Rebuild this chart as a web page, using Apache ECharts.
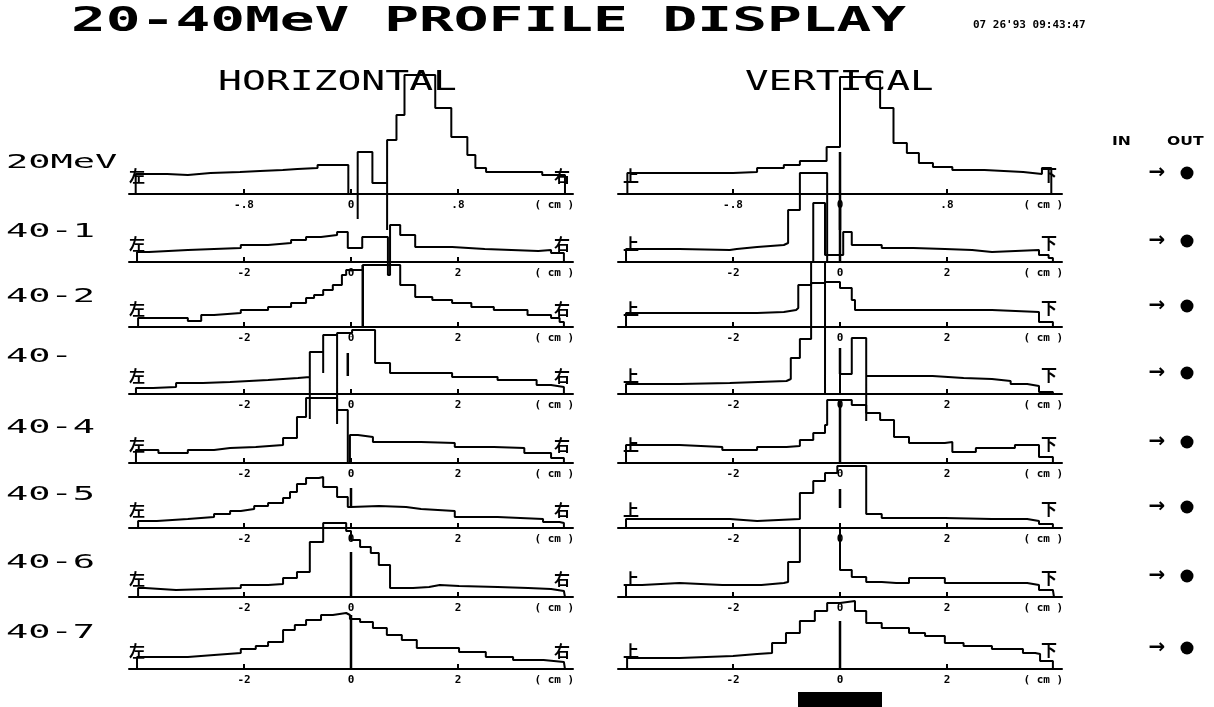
<!DOCTYPE html>
<html>
<head>
<meta charset="utf-8">
<script src="https://cdn.jsdelivr.net/npm/echarts@6/dist/echarts.min.js"></script>
<style>html,body{margin:0;padding:0;background:#fff}#c{width:1214px;height:707px}</style>
</head>
<body>
<div id="c"></div>
<script>
// ---------- data (x in cm, y = intensity in arbitrary units) ----------
const rowNames = ['20MeV', '40-1', '40-2', '40-', '40-4', '40-5', '40-6', '40-7'];
const row1TickValues = [-0.8, 0, 0.8];
const row1TickLabels = ['-.8', '0', '.8'];
const tickValues = [-2, 0, 2];
const tickLabels = ['-2', '0', '2'];
const unitLabel = '( cm )';

const horiz20MeV = [[-1.61,0],[-1.61,20],[-1.375,19],[-1.22,21],[-1.05,22],[-0.83,23],[-0.68,24],[-0.51,25],[-0.40,26],[-0.25,29],[-0.02,0],[0.05,-25],[0.05,42],[0.16,11],[0.27,-36],[0.27,54],[0.34,79],[0.40,119],[0.63,86],[0.75,57],[0.87,39],[0.93,26],[1.01,22],[1.43,19],[1.60,0]];
const horiz40_1 = [[-4.0,0],[-4.0,10],[-3.78,12],[-3.05,13],[-2.56,14],[-2.06,17],[-1.55,19],[-1.12,22],[-0.84,25],[-0.56,27],[-0.26,30],[-0.06,14],[0.21,25],[0.69,-13],[0.73,37],[0.92,27],[1.2,15],[1.89,13],[2.5,12],[3.0,11],[3.5,12],[3.74,9],[3.98,0]];
const horiz40_2 = [[-3.98,0],[-3.98,9],[-3.05,6],[-2.80,12],[-2.56,14],[-2.06,17],[-1.55,20],[-1.12,24],[-0.84,29],[-0.69,32],[-0.52,37],[-0.34,42],[-0.17,52],[-0.09,57],[0.22,62],[0.92,42],[1.2,30],[1.52,27],[1.89,24],[2.25,20],[2.67,17],[3.3,12],[3.74,9],[3.9,5],[3.98,0]];
const horiz40_3 = [[-4.02,0],[-4.02,6],[-3.70,7],[-3.27,11],[-2.77,12],[-2.26,14],[-1.55,16],[-0.99,17],[-0.77,-25],[-0.77,42],[-0.52,21],[-0.52,59],[-0.26,-30],[-0.26,61],[0.02,64],[0.45,31],[0.73,21],[1.89,17],[2.74,14],[3.47,9],[3.74,7],[3.98,0]];
const horiz40_4 = [[-4.02,0],[-4.02,13],[-3.6,10],[-3.05,13],[-2.56,15],[-2.26,16],[-1.78,18],[-1.27,25],[-1.01,46],[-0.84,65],[-0.26,53],[-0.06,0],[-0.02,28],[0.13,26],[0.41,21],[1.31,20],[1.94,16],[2.67,15],[3.24,10],[3.74,5],[3.98,0]];
const horiz40_5 = [[-3.98,0],[-3.98,7],[-3.63,9],[-3.05,11],[-2.56,14],[-2.26,17],[-2.06,19],[-1.81,22],[-1.55,25],[-1.27,30],[-1.14,36],[-1.01,44],[-0.84,50],[-0.6,51],[-0.52,41],[-0.26,31],[-0.06,21],[0.0,22],[0.52,21],[1.03,19],[1.31,17],[1.94,11],[2.74,9],[3.59,6],[3.9,5],[3.98,0]];
const horiz40_6 = [[-3.98,0],[-3.98,9],[-3.85,7],[-3.27,9],[-2.06,12],[-1.55,13],[-1.27,19],[-1.01,25],[-0.77,55],[-0.52,74],[-0.09,66],[0.0,57],[0.17,50],[0.37,44],[0.52,32],[0.73,9],[1.16,10],[1.46,12],[1.66,11],[2.02,10],[2.74,9],[3.31,8],[3.74,6],[3.98,5],[4.0,0]];
const horiz40_7 = [[-4.0,0],[-4.0,12],[-3.05,14],[-2.56,16],[-2.06,20],[-1.78,23],[-1.55,27],[-1.27,39],[-1.05,44],[-0.84,49],[-0.56,54],[-0.34,56],[-0.09,54],[-0.02,50],[0.17,47],[0.41,41],[0.67,34],[0.95,29],[1.23,21],[2.02,17],[2.52,12],[3.03,9],[3.6,7],[3.98,6],[4.0,0]];

const vert20MeV = [[-1.59,0],[-1.59,21],[-0.80,22],[-0.62,26],[-0.42,29],[-0.30,33],[-0.10,47],[0,117],[0.30,86],[0.40,51],[0.50,41],[0.59,31],[0.695,27],[0.84,24],[1.08,22],[1.37,20],[1.51,26],[1.58,0]];
const vert40_1 = [[-4.0,0],[-4.0,13],[-3.0,12],[-2.06,13],[-1.93,15],[-1.55,17],[-1.05,19],[-0.97,52],[-0.75,89],[-0.24,68],[-0.24,0],[-0.5,0],[-0.5,59],[-0.28,7],[0.06,30],[0.22,17],[0.78,14],[1.37,13],[1.96,12],[2.47,10],[2.84,12],[3.72,7],[3.9,4],[3.98,0]];
const vert40_2 = [[-4.0,0],[-4.0,14],[-1.55,15],[-1.05,17],[-0.82,19],[-0.78,42],[-0.54,65],[-0.28,45],[0.0,39],[0.22,27],[0.28,17],[1.96,17],[2.84,15],[3.72,14],[3.72,5],[3.98,0]];
const vert40_3 = [[-4.0,0],[-4.0,10],[-3.0,11],[-2.06,13],[-1.0,15],[-0.92,36],[-0.75,55],[-0.54,111],[-0.28,0],[0.0,20],[0.22,56],[0.49,-27],[0.49,18],[1.73,16],[2.31,15],[2.84,13],[3.19,10],[3.5,8],[3.72,2],[3.98,0]];
const vert40_4 = [[-4.0,0],[-4.0,18],[-3.0,16],[-2.2,13],[-1.55,16],[-1.0,17],[-0.75,23],[-0.5,30],[-0.28,38],[-0.24,63],[0.22,58],[0.49,50],[0.75,43],[1.01,26],[1.29,20],[1.96,21],[2.1,11],[2.54,15],[3.27,18],[3.72,6],[3.98,0]];
const vert40_5 = [[-4.0,0],[-4.0,9],[-2.06,7],[-1.55,9],[-0.75,35],[-0.5,47],[-0.28,55],[-0.05,62],[0.49,14],[0.78,10],[1.96,9],[2.84,9],[3.5,7],[3.72,4],[3.98,0]];
const vert40_6 = [[-4.0,0],[-4.0,12],[-3.7,14],[-3.0,12],[-2.2,12],[-1.47,14],[-1.05,15],[-0.97,35],[-0.75,69],[0.0,27],[0.22,20],[0.49,15],[0.78,14],[1.05,14],[1.29,19],[1.96,14],[2.5,14],[3.5,12],[3.72,7],[3.98,5],[4.0,0]];
const vert40_7 = [[-3.98,0],[-3.98,11],[-3.0,13],[-2.0,15],[-1.55,16],[-1.27,26],[-1.01,36],[-0.75,48],[-0.47,58],[-0.24,66],[0.0,68],[0.28,58],[0.49,46],[0.78,41],[1.29,36],[1.59,33],[1.96,26],[2.31,23],[2.84,20],[3.42,16],[3.65,15],[3.74,8],[3.98,0]];

// centre markers: [row, x(cm), from, to]
const horizMarkers = [[2,0.22,0,62],[3,-0.06,18,41],[5,0,21,40],[6,0,0,45],[7,0,0,54]];
const vertMarkers = [[0,0,-36,42],[1,0,0,62],[3,0,20,46],[4,0,0,63],[5,0,20,39],[7,0,0,48]];

const horizProfiles = [horiz20MeV, horiz40_1, horiz40_2, horiz40_3, horiz40_4, horiz40_5, horiz40_6, horiz40_7];
const vertProfiles = [vert20MeV, vert40_1, vert40_2, vert40_3, vert40_4, vert40_5, vert40_6, vert40_7];

// ---------- layout ----------
const axisY = [194, 262, 327, 394, 463, 528, 597, 669];
const panelLeft = [129, 618];
const panelWidth = 444;
const gridH = 60;
const MONO = '"DejaVu Sans Mono", "Liberation Mono", monospace';

const grid = [], xAxis = [], yAxis = [], series = [];
[horizProfiles, vertProfiles].forEach(function (profiles, p) {
  profiles.forEach(function (prof, r) {
    const idx = grid.length;
    const first = r === 0;
    const tv = first ? row1TickValues : tickValues;
    const tl = first ? row1TickLabels : tickLabels;
    const range = first ? 1.66 : 4.15;
    const unitPos = first ? 1.52 : 3.8;
    grid.push({ left: panelLeft[p], width: panelWidth, top: axisY[r] - gridH, height: gridH });
    xAxis.push({
      type: 'value', gridIndex: idx, min: -range, max: range,
      axisLine: { onZero: false, lineStyle: { color: '#000', width: 2 } },
      axisTick: { show: true, inside: true, length: 5, customValues: tv, lineStyle: { color: '#000', width: 2 } },
      axisLabel: {
        customValues: tv.concat([unitPos]), margin: 6, color: '#000',
        fontFamily: MONO, fontWeight: 'bold', fontSize: 11,
        formatter: function (v) { const i = tv.indexOf(v); return i >= 0 ? tl[i] : unitLabel; }
      },
      splitLine: { show: false }
    });
    yAxis.push({ type: 'value', gridIndex: idx, min: 0, max: gridH, show: false });
    series.push({
      type: 'line', xAxisIndex: idx, yAxisIndex: idx, data: prof, step: 'end',
      showSymbol: false, clip: false, silent: true,
      lineStyle: { color: '#000', width: 2 }
    });
  });
});
function addMarkers(list, p) {
  list.forEach(function (m) {
    const idx = p * 8 + m[0];
    series.push({
      type: 'line', xAxisIndex: idx, yAxisIndex: idx, data: [[m[1], m[2]], [m[1], m[3]]],
      showSymbol: false, clip: false, silent: true, lineStyle: { color: '#000', width: 2.5 }
    });
  });
}
addMarkers(horizMarkers, 0);
addMarkers(vertMarkers, 1);

// ---------- decorations ----------
function txt(x, y, text, font, sx, align) {
  return { type: 'text', x: x, y: y, scaleX: sx || 1, silent: true,
    style: { text: text, font: font, fill: '#000', textAlign: align || 'left', align: align || 'left',
      textVerticalAlign: 'middle', verticalAlign: 'middle' } };
}
const graphic = [];
graphic.push(txt(71, 22, '20-40MeV PROFILE DISPLAY', 'bold 34px ' + MONO, 1.70));
graphic.push(txt(973, 25, "07 26'93 09:43:47", 'bold 11px ' + MONO, 1.0));
graphic.push(txt(218, 83, 'HORIZONTAL', '27px ' + MONO, 1.47));
graphic.push(txt(745, 83, 'VERTICAL', '27px ' + MONO, 1.45));
const labelY = [163, 232, 297, 357, 428, 495, 563, 633];
rowNames.forEach(function (n, r) { graphic.push(txt(6, labelY[r], n, '20px ' + MONO, 1.85)); });
graphic.push(txt(1112, 142, 'IN', 'bold 12px "DejaVu Sans"', 1.3));
graphic.push(txt(1167, 142, 'OUT', 'bold 12px "DejaVu Sans"', 1.3));
axisY.forEach(function (ay, r) {
  graphic.push(txt(1157, ay - 21, '→', 'bold 20px "DejaVu Sans"', 1.0, 'center'));
  graphic.push({ type: 'circle', silent: true, shape: { cx: 1187, cy: ay - 21, r: 6.5 }, style: { fill: '#000' } });
  const cjk = 'bold 16px "Noto Sans CJK JP"';
  graphic.push(txt(137, ay - 18, '左', cjk, 1, 'center'));
  graphic.push(txt(562, ay - 18, '右', cjk, 1, 'center'));
  graphic.push(txt(631, ay - 18, '上', cjk, 1, 'center'));
  graphic.push(txt(1049, ay - 19, '下', cjk, 1, 'center'));
});
graphic.push({ type: 'rect', silent: true, shape: { x: 798, y: 692, width: 84, height: 15 }, style: { fill: '#000' } });

const chart = echarts.init(document.getElementById('c'), null, { renderer: 'canvas' });
chart.setOption({ animation: false, backgroundColor: '#fff', grid: grid, xAxis: xAxis, yAxis: yAxis, series: series, graphic: graphic });
</script>
</body>
</html>
